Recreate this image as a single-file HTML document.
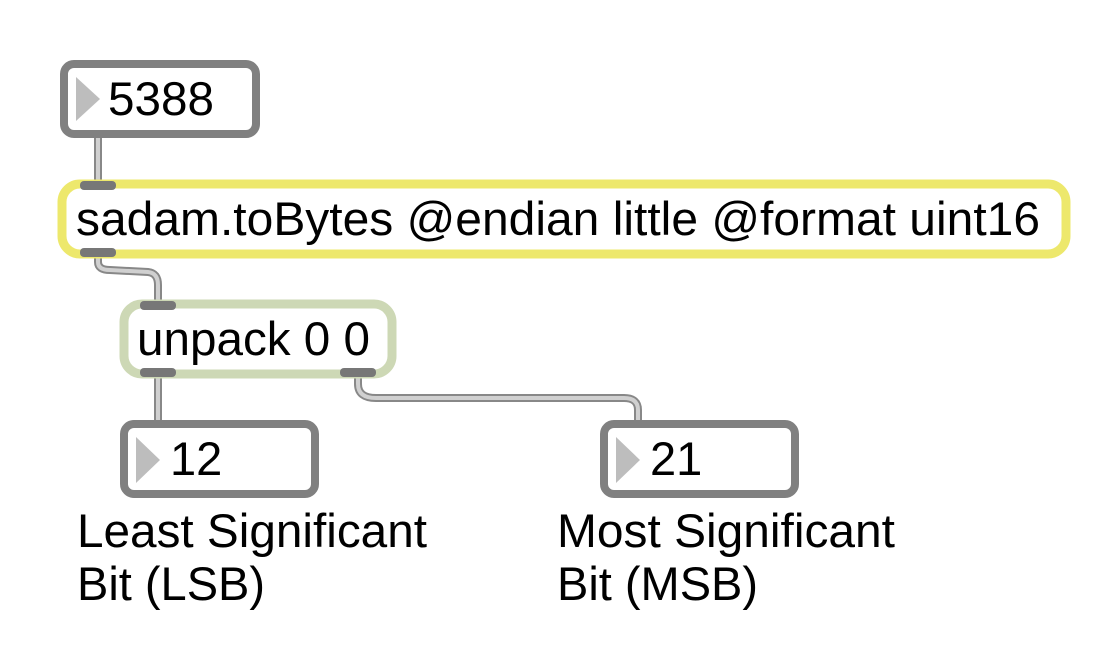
<!DOCTYPE html>
<html><head><style>
html,body{margin:0;padding:0;background:#fff;width:1112px;height:660px;overflow:hidden}
svg text{font-family:"Liberation Sans",Arial,sans-serif;fill:#000}
</style></head><body>
<svg width="1112" height="660" viewBox="0 0 1112 660" xmlns="http://www.w3.org/2000/svg">
<g fill="none" stroke-linecap="butt" stroke-linejoin="round">
 <g stroke="#888" stroke-width="8">
  <path d="M98 136 V184"/>
  <path d="M98 254 V262 Q98 270 110 270 L148 272 Q158 273 158 285 V304"/>
  <path d="M158 374 V426"/>
  <path d="M358 374 V384 Q358 398 376 398 L624 398 Q638 398 638 410 V424"/>
 </g>
 <g stroke="#d0d0d0" stroke-width="4">
  <path d="M98 136 V184"/>
  <path d="M98 254 V262 Q98 270 110 270 L148 272 Q158 273 158 285 V304"/>
  <path d="M158 374 V426"/>
  <path d="M358 374 V384 Q358 398 376 398 L624 398 Q638 398 638 410 V424"/>
 </g>
</g>
<rect x="64" y="64" width="192" height="70" rx="10" fill="#fff" stroke="#808080" stroke-width="8"/>
<polygon points="76,77 100,99 76,121" fill="#bdbdbd"/>
<text x="108" y="115" font-size="47" textLength="106" lengthAdjust="spacingAndGlyphs">5388</text>
<rect x="62" y="184" width="1004" height="70" rx="18" fill="#fff" stroke="#ede86c" stroke-width="9"/>
<rect x="80" y="181" width="36" height="9" rx="4" fill="#777"/>
<rect x="80" y="248" width="36" height="9" rx="4" fill="#777"/>
<text x="76" y="235" font-size="47" textLength="964" lengthAdjust="spacingAndGlyphs">sadam.toBytes @endian little @format uint16</text>
<rect x="124" y="304" width="268" height="70" rx="18" fill="#fff" stroke="#cdd8b5" stroke-width="9"/>
<rect x="140" y="301" width="36" height="9" rx="4" fill="#777"/>
<rect x="140" y="368" width="36" height="9" rx="4" fill="#777"/>
<rect x="340" y="368" width="36" height="9" rx="4" fill="#777"/>
<text x="137" y="355" font-size="47" textLength="233" lengthAdjust="spacingAndGlyphs">unpack 0 0</text>
<rect x="124" y="424" width="191" height="70" rx="10" fill="#fff" stroke="#808080" stroke-width="8"/>
<polygon points="136,437 160,460 136,483" fill="#bdbdbd"/>
<text x="170" y="475" font-size="47">12</text>
<rect x="604" y="424" width="191" height="70" rx="10" fill="#fff" stroke="#808080" stroke-width="8"/>
<polygon points="616,437 640,460 616,483" fill="#bdbdbd"/>
<text x="650" y="475" font-size="47">21</text>
<text x="77" y="547" font-size="47" textLength="350" lengthAdjust="spacingAndGlyphs">Least Significant</text>
<text x="77" y="600" font-size="47">Bit (LSB)</text>
<text x="557" y="547" font-size="47" textLength="338" lengthAdjust="spacingAndGlyphs">Most Significant</text>
<text x="557" y="600" font-size="47">Bit (MSB)</text>
</svg>
</body></html>
